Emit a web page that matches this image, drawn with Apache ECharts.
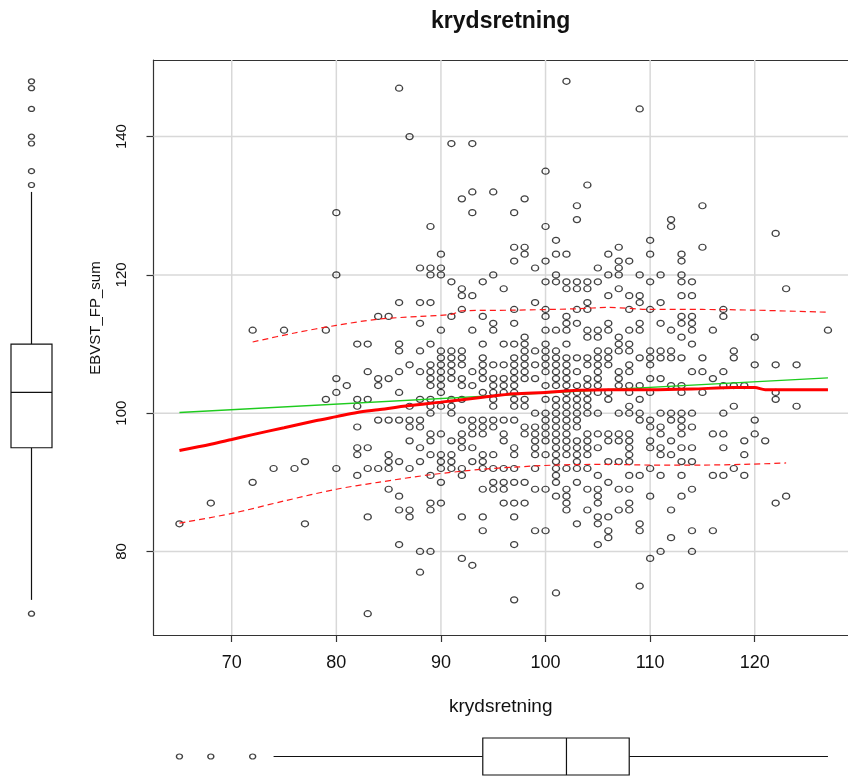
<!DOCTYPE html>
<html>
<head>
<meta charset="utf-8">
<script src="https://cdn.jsdelivr.net/npm/echarts@6/dist/echarts.min.js"></script>
<style>
  html, body { margin: 0; padding: 0; background: #ffffff; }
  #chart { width: 848px; height: 778px; }
</style>
</head>
<body>
<div id="chart"></div>
<script>
// Observations grouped by EBVST_FP_sum: [EBVST_FP_sum, [krydsretning values]]
const rowsByEbvst = [
  [148, [102]],
  [147, [86]],
  [144, [109]],
  [140, [87]],
  [139, [91, 93]],
  [135, [100]],
  [133, [104]],
  [132, [93, 95]],
  [131, [92, 98]],
  [130, [103, 115]],
  [129, [80, 93, 97]],
  [128, [103, 112]],
  [127, [89, 100, 112]],
  [126, [122]],
  [125, [101, 110]],
  [124, [97, 98, 107, 115]],
  [123, [90, 98, 101, 102, 106, 110, 113]],
  [122, [97, 100, 107, 108, 113]],
  [121, [88, 89, 90, 99, 105, 107]],
  [120, [80, 89, 90, 95, 101, 106, 107, 109, 111, 113]],
  [119, [91, 94, 100, 101, 102, 103, 104, 105, 110, 113, 114]],
  [118, [92, 96, 102, 103, 104, 107, 123]],
  [117, [92, 93, 106, 108, 109, 113, 114]],
  [116, [86, 88, 89, 99, 104, 109, 111]],
  [115, [92, 97, 100, 103, 104, 108, 110, 117]],
  [114, [84, 85, 91, 94, 100, 102, 113, 114, 117]],
  [113, [88, 95, 97, 102, 103, 106, 109, 111, 113, 114]],
  [112, [72, 75, 79, 90, 93, 95, 100, 101, 102, 104, 105, 106, 108, 109, 112, 114, 116, 127]],
  [111, [98, 104, 105, 107, 113, 120]],
  [110, [82, 83, 86, 89, 94, 96, 97, 98, 100, 102, 107, 108, 114]],
  [109, [86, 88, 90, 91, 92, 98, 99, 100, 101, 105, 106, 107, 108, 110, 111, 112, 118]],
  [108, [90, 91, 92, 94, 97, 98, 100, 101, 102, 103, 104, 105, 106, 109, 110, 111, 112, 113, 115, 118]],
  [107, [87, 89, 90, 91, 92, 94, 95, 96, 97, 98, 99, 100, 101, 102, 104, 105, 106, 108, 110, 120, 122, 124]],
  [106, [83, 86, 88, 89, 90, 91, 93, 94, 97, 98, 100, 101, 102, 103, 105, 107, 108, 114, 115, 117]],
  [105, [80, 84, 85, 89, 90, 91, 92, 94, 95, 96, 97, 98, 99, 101, 102, 104, 105, 107, 110, 111, 116]],
  [104, [81, 84, 89, 90, 92, 93, 95, 96, 97, 100, 101, 102, 103, 104, 105, 107, 108, 109, 112, 113, 117, 118, 119]],
  [103, [80, 86, 90, 94, 95, 96, 97, 102, 103, 104, 105, 106, 108, 110, 113, 115, 122]],
  [102, [79, 82, 83, 88, 89, 91, 92, 95, 97, 98, 100, 101, 102, 103, 104, 106, 109, 122]],
  [101, [82, 87, 89, 90, 91, 95, 97, 98, 101, 102, 103, 104, 108, 118, 124]],
  [100, [89, 91, 99, 100, 101, 102, 103, 104, 105, 107, 108, 109, 111, 112, 113, 114, 117]],
  [99,  [84, 85, 86, 87, 88, 92, 93, 94, 95, 96, 97, 100, 101, 102, 103, 109, 110, 112, 113, 120]],
  [98,  [82, 87, 88, 93, 94, 95, 98, 99, 100, 101, 102, 103, 110, 111, 113, 114]],
  [97,  [89, 90, 92, 93, 94, 96, 98, 99, 100, 101, 102, 104, 105, 106, 107, 108, 111, 113, 116, 117, 120]],
  [96,  [87, 89, 91, 92, 96, 99, 100, 101, 102, 103, 104, 106, 107, 108, 110, 112, 119, 121]],
  [95,  [82, 83, 88, 92, 93, 97, 99, 101, 102, 103, 104, 105, 108, 110, 111, 113, 114, 117]],
  [94,  [82, 85, 89, 90, 91, 94, 95, 97, 99, 100, 101, 102, 103, 104, 108, 111, 112, 119]],
  [93,  [77, 85, 86, 88, 90, 91, 93, 94, 101, 103, 106, 107, 108, 113, 114]],
  [92,  [74, 76, 80, 83, 84, 85, 87, 90, 91, 92, 94, 95, 96, 97, 99, 101, 102, 103, 104, 110, 118]],
  [91,  [82, 89, 92, 101, 105, 108, 109, 111, 113, 116, 117, 119]],
  [90,  [72, 90, 95, 96, 97, 98, 101, 103, 106]],
  [89,  [85, 94, 95, 96, 99, 100, 102, 104, 105, 107, 108, 114]],
  [88,  [86, 101, 102, 105, 110, 113, 123]],
  [87,  [68, 89, 90, 96, 97, 98, 102, 105, 108, 122]],
  [86,  [86, 87, 89, 102, 104, 107, 108, 112]],
  [85,  [83, 87, 92, 94, 97, 105, 106]],
  [84,  [65, 77, 103, 105, 109]],
  [83,  [94, 99, 100, 106, 109, 114, 116]],
  [82,  [106, 112]],
  [81,  [86, 97, 105]],
  [80,  [88, 89, 111, 114]],
  [79,  [92, 110]],
  [78,  [93]],
  [77,  [88]],
  [75,  [109]],
  [74,  [101]],
  [73,  [97]],
  [71,  [83]]
];

// Tick positions of both axes
const xTicks = [70, 80, 90, 100, 110, 120];
const yTicks = [80, 100, 120, 140];

// Linear fit (green)
const fitX = [65, 127];
const fitY = [100.1, 105.1];

// Smoother (solid red) and its spread band (dashed red)
const smoothX = [65, 68, 70, 72, 75, 78, 80, 82, 84, 87, 90, 94, 97, 100, 103, 106, 110, 114, 118, 120, 121, 127];
const smoothY = [94.6, 95.5, 96.2, 96.9, 97.9, 98.9, 99.5, 100.1, 100.5, 101.1, 101.6, 102.3, 102.8, 103.0, 103.3, 103.4, 103.4, 103.5, 103.7, 103.7, 103.4, 103.4];
const upperX = [72, 76, 80, 84, 88, 91, 92, 97, 103, 106, 110, 115, 120, 127];
const upperY = [110.3, 111.6, 112.7, 113.6, 114.0, 114.3, 114.8, 114.9, 115.1, 115.3, 115.0, 115.0, 114.9, 114.6];
const lowerX = [65, 70, 75, 80, 84, 89, 94, 97, 101, 106, 110, 115, 119, 123];
const lowerY = [84.1, 85.5, 87.3, 89.0, 90.0, 91.1, 91.9, 92.2, 92.5, 92.6, 92.5, 92.5, 92.6, 92.8];

// Marginal boxplots: [lower whisker, Q1, median, Q3, upper whisker]
const xBox = [74, 94, 102, 108, 127];
const xOutliers = [65, 68, 72];
const yBox = [73, 95, 103, 110, 132];
const yOutliers = [148, 147, 144, 140, 139, 135, 133, 71];

const observations = rowsByEbvst.flatMap(([y, xs]) => xs.map(x => [x, y]));
const pair = (xs, ys) => xs.map((x, i) => [x, ys[i]]);

// Axis ranges padded by 4% of the data range on each side
const allX = observations.map(p => p[0]);
const allY = observations.map(p => p[1]);
const pad = (lo, hi) => [lo - 0.04 * (hi - lo), hi + 0.04 * (hi - lo)];
const [xMin, xMaxFull] = pad(Math.min(...allX), Math.max(...allX));
const [yMin, yMax] = pad(Math.min(...allY), Math.max(...allY));

const FONT = '"Liberation Sans", Arial, sans-serif';
const INK = '#111111';
const FRAME = '#333333';
const CANVAS_W = 848;

// Plot region; its full width runs past the right edge of the canvas,
// so the visible part ends at the canvas edge with the matching x value.
const plot = { left: 153.5, top: 60, fullWidth: 700.4, height: 575 };
const visibleWidth = CANVAS_W - plot.left;
const xMax = xMin + (xMaxFull - xMin) * visibleWidth / plot.fullWidth;
const plotCenterX = plot.left + plot.fullWidth / 2 - 3;

function gridLineItem(vertical) {
  return function (params, api) {
    const v = api.value(0);
    const a = vertical ? api.coord([v, yMin]) : api.coord([xMin, v]);
    const b = vertical ? api.coord([v, yMax]) : api.coord([xMax, v]);
    return {
      type: 'line',
      shape: { x1: a[0], y1: a[1], x2: b[0], y2: b[1] },
      style: { stroke: '#d8d8d8', lineWidth: 1.5 }
    };
  };
}

// Box with whiskers; `horizontal` puts the values on the x axis
function boxItem(horizontal) {
  return function (params, api) {
    const v = [0, 1, 2, 3, 4].map(i => api.value(i));
    const pt = (val, c) => horizontal ? api.coord([val, c]) : api.coord([c, val]);
    const s = { stroke: INK, lineWidth: 1.2, fill: null };
    const seg = (v1, c1, v2, c2) => {
      const a = pt(v1, c1), b = pt(v2, c2);
      return { type: 'line', shape: { x1: a[0], y1: a[1], x2: b[0], y2: b[1] }, style: s };
    };
    const q1a = pt(v[1], 0), q3b = pt(v[3], 1);
    return {
      type: 'group',
      children: [
        seg(v[0], 0.5, v[1], 0.5),
        seg(v[3], 0.5, v[4], 0.5),
        {
          type: 'rect',
          shape: {
            x: Math.min(q1a[0], q3b[0]), y: Math.min(q1a[1], q3b[1]),
            width: Math.abs(q3b[0] - q1a[0]), height: Math.abs(q3b[1] - q1a[1])
          },
          style: { stroke: INK, lineWidth: 1.2, fill: '#ffffff' }
        },
        seg(v[2], 0, v[2], 1)
      ]
    };
  };
}

const circleStyle = { color: 'rgba(0,0,0,0)', borderColor: INK, borderWidth: 1.3 };

const chart = echarts.init(document.getElementById('chart'), null, { renderer: 'canvas' });

chart.setOption({
  backgroundColor: '#ffffff',
  animation: false,
  textStyle: { fontFamily: FONT },
  graphic: [
    {
      type: 'text',
      x: plotCenterX,
      y: 22,
      style: {
        text: 'krydsretning',
        font: 'bold 23px ' + FONT,
        fill: INK,
        textAlign: 'center',
        textVerticalAlign: 'middle'
      }
    },
    {
      type: 'text',
      x: 96,
      y: 318,
      rotation: Math.PI / 2,
      style: {
        text: 'EBVST_FP_sum',
        font: '15px ' + FONT,
        fill: INK,
        textAlign: 'center',
        textVerticalAlign: 'middle'
      }
    }
  ],
  grid: [
    { left: plot.left, top: plot.top, width: visibleWidth, height: plot.height, containLabel: false },
    { left: plot.left, width: visibleWidth, top: 738, height: 37, containLabel: false },
    { left: 11, width: 41, top: plot.top, height: plot.height, containLabel: false }
  ],
  xAxis: [
    {
      gridIndex: 0, type: 'value', min: xMin, max: xMax, position: 'bottom',
      name: 'krydsretning', nameLocation: 'middle', nameGap: 62,
      nameTextStyle: { fontSize: 19, color: INK, fontFamily: FONT },
      axisLine: { show: true, lineStyle: { color: FRAME, width: 1.2 } },
      splitLine: { show: false },
      axisTick: { show: true, length: 7, customValues: xTicks, lineStyle: { color: FRAME, width: 1.2 } },
      axisLabel: { customValues: xTicks, fontSize: 18, color: INK, margin: 19, fontFamily: FONT }
    },
    { gridIndex: 1, type: 'value', min: xMin, max: xMax, show: false },
    { gridIndex: 2, type: 'value', min: 0, max: 1, show: false },
    {
      gridIndex: 0, type: 'value', min: xMin, max: xMax, position: 'top',
      axisLine: { show: true, lineStyle: { color: FRAME, width: 1.2 } },
      axisTick: { show: false }, axisLabel: { show: false }, splitLine: { show: false }
    }
  ],
  yAxis: [
    {
      gridIndex: 0, type: 'value', min: yMin, max: yMax,
      axisLine: { show: true, lineStyle: { color: FRAME, width: 1.2 } },
      splitLine: { show: false },
      axisTick: { show: true, length: 7, customValues: yTicks, lineStyle: { color: FRAME, width: 1.2 } },
      axisLabel: { customValues: yTicks, rotate: 90, fontSize: 15, color: INK, margin: 24, fontFamily: FONT }
    },
    { gridIndex: 1, type: 'value', min: 0, max: 1, show: false },
    { gridIndex: 2, type: 'value', min: yMin, max: yMax, show: false }
  ],
  series: [
    {
      type: 'custom', xAxisIndex: 0, yAxisIndex: 0, silent: true, z: 1,
      data: xTicks.map(v => [v]), renderItem: gridLineItem(true)
    },
    {
      type: 'custom', xAxisIndex: 0, yAxisIndex: 0, silent: true, z: 1,
      data: yTicks.map(v => [v]), renderItem: gridLineItem(false)
    },
    {
      name: 'observations', type: 'scatter', xAxisIndex: 0, yAxisIndex: 0, z: 2,
      symbol: 'circle', symbolSize: [7, 6],
      itemStyle: circleStyle,
      data: observations
    },
    {
      name: 'linear', type: 'line', xAxisIndex: 0, yAxisIndex: 0, z: 3,
      showSymbol: false, symbol: 'none',
      lineStyle: { color: '#1ecb1e', width: 1.3 },
      data: pair(fitX, fitY)
    },
    {
      name: 'spread upper', type: 'line', xAxisIndex: 0, yAxisIndex: 0, z: 4,
      showSymbol: false, symbol: 'none', smooth: 0.3,
      lineStyle: { color: '#ff1a1a', width: 1.2, type: [6, 4] },
      data: pair(upperX, upperY)
    },
    {
      name: 'spread lower', type: 'line', xAxisIndex: 0, yAxisIndex: 0, z: 4,
      showSymbol: false, symbol: 'none', smooth: 0.3,
      lineStyle: { color: '#ff1a1a', width: 1.2, type: [6, 4] },
      data: pair(lowerX, lowerY)
    },
    {
      name: 'smoother', type: 'line', xAxisIndex: 0, yAxisIndex: 0, z: 5,
      showSymbol: false, symbol: 'none', smooth: 0.3,
      lineStyle: { color: '#ff0000', width: 3 },
      data: pair(smoothX, smoothY)
    },
    {
      type: 'custom', xAxisIndex: 1, yAxisIndex: 1, silent: true,
      data: [xBox], renderItem: boxItem(true)
    },
    {
      type: 'scatter', xAxisIndex: 1, yAxisIndex: 1, silent: true,
      symbol: 'circle', symbolSize: [6, 5], itemStyle: circleStyle,
      data: xOutliers.map(v => [v, 0.5])
    },
    {
      type: 'custom', xAxisIndex: 2, yAxisIndex: 2, silent: true,
      data: [yBox], renderItem: boxItem(false)
    },
    {
      type: 'scatter', xAxisIndex: 2, yAxisIndex: 2, silent: true,
      symbol: 'circle', symbolSize: [6, 5], itemStyle: circleStyle,
      data: yOutliers.map(v => [0.5, v])
    }
  ]
});
</script>
</body>
</html>
